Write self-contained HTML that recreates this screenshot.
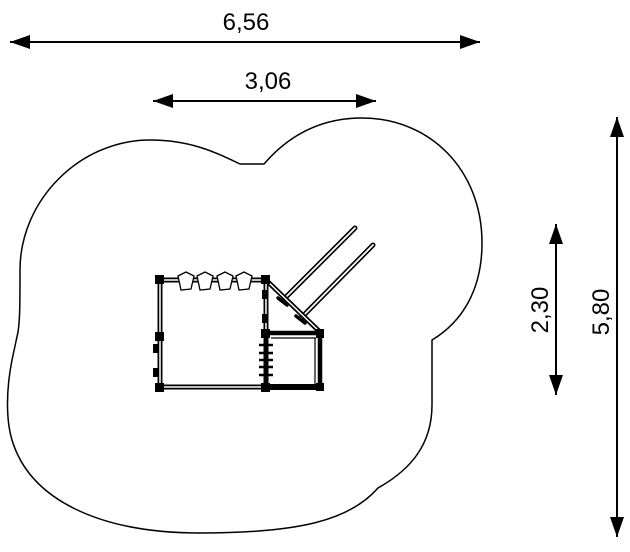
<!DOCTYPE html>
<html><head><style>body{margin:0;background:#fff}svg{display:block}</style></head><body>
<svg width="630" height="552" viewBox="0 0 630 552" xmlns="http://www.w3.org/2000/svg">
<defs>
<marker id="b" markerWidth="20" markerHeight="14" refX="20" refY="7" orient="auto-start-reverse" markerUnits="userSpaceOnUse" viewBox="0 0 20 14">
<path d="M0,0 L20,7 L0,14 z" fill="#000"/></marker>
</defs>
<g font-family="Liberation Sans, sans-serif" font-size="24" fill="#000">
<line x1="10" y1="42" x2="480" y2="42" stroke="#000" stroke-width="2" marker-start="url(#b)" marker-end="url(#b)"/>
<text x="246" y="30" text-anchor="middle">6,56</text>
<line x1="153" y1="101" x2="376" y2="101" stroke="#000" stroke-width="2" marker-start="url(#b)" marker-end="url(#b)"/>
<text x="268" y="89" text-anchor="middle">3,06</text>
<line x1="556" y1="224" x2="556" y2="395" stroke="#000" stroke-width="2" marker-start="url(#b)" marker-end="url(#b)"/>
<text transform="translate(548,310) rotate(-90)" text-anchor="middle">2,30</text>
<line x1="617" y1="117" x2="617" y2="537" stroke="#000" stroke-width="2" marker-start="url(#b)" marker-end="url(#b)"/>
<text transform="translate(609,312) rotate(-90)" text-anchor="middle">5,80</text>
</g>
<path d="M240,164 L264,164 C295,128 330,118 362,118 C430,118 482,170 482,243 C482,290 462,322 432,340 L432,405 C432,445 410,470 378,488 C350,520 300,533 200,533 C100,533 30,500 12,440 C6,420 6,390 12,360 L18,332 C20,320 20,300 20,270 C20,200 80,140 150,140 C190,140 215,152 240,164 Z" fill="none" stroke="#000" stroke-width="1.5"/>
<g stroke="#000" fill="none" stroke-linecap="round">
<line x1="355" y1="228" x2="283" y2="300" stroke-width="5"/>
<line x1="355" y1="228" x2="283" y2="300" stroke="#fff" stroke-width="1.8"/>
<line x1="373" y1="245" x2="301" y2="318" stroke-width="5"/>
<line x1="373" y1="245" x2="301" y2="318" stroke="#fff" stroke-width="1.8"/>
<line x1="278" y1="298" x2="287" y2="305" stroke-width="3.5"/>
<line x1="296" y1="316" x2="305" y2="323" stroke-width="3.5"/>
</g>
<g stroke="#000" fill="none">
<rect x="160" y="280" width="106" height="107" stroke-width="5"/>
<rect x="160" y="280" width="106" height="107" stroke="#fff" stroke-width="1.5"/>
<line x1="266" y1="280" x2="320" y2="332" stroke-width="5"/>
<line x1="266" y1="280" x2="320" y2="332" stroke="#fff" stroke-width="1.5"/>
<rect x="266" y="333" width="54" height="54" stroke-width="4.5"/>
<line x1="266" y1="387" x2="320" y2="387" stroke-width="6"/>
<line x1="271" y1="338" x2="316" y2="338" stroke-width="1.2"/>
<line x1="315" y1="338" x2="315" y2="384" stroke-width="1.2"/>
<g stroke-width="2.5"><line x1="259" y1="345" x2="273" y2="345"/><line x1="259" y1="353" x2="273" y2="353"/><line x1="259" y1="360" x2="273" y2="360"/><line x1="259" y1="367" x2="273" y2="367"/><line x1="259" y1="375" x2="273" y2="375"/></g>
<g stroke-width="1.3" fill="#fff">
<path d="M178,276 L186,272 L194,276 L191,289 L181,290 Z"/>
<path d="M197,276 L205,272 L213,276 L210,289 L200,290 Z"/>
<path d="M217,276 L225,272 L233,276 L230,289 L220,290 Z"/>
<path d="M236,276 L244,272 L252,276 L249,289 L239,290 Z"/>
</g>
</g>
<g fill="#000">
<rect x="155" y="275" width="9" height="9"/><rect x="261" y="275" width="9" height="9"/>
<rect x="155" y="332" width="9" height="9"/><rect x="155" y="383" width="9" height="9"/>
<rect x="261" y="329" width="9" height="9"/><rect x="261" y="383" width="9" height="9"/>
<rect x="316" y="329" width="8" height="9"/><rect x="316" y="383" width="8" height="8"/>
<rect x="153" y="344" width="6" height="9"/><rect x="153" y="368" width="6" height="9"/>
<rect x="262" y="290" width="6" height="9"/><rect x="262" y="314" width="6" height="9"/>
</g>
</svg>
</body></html>
